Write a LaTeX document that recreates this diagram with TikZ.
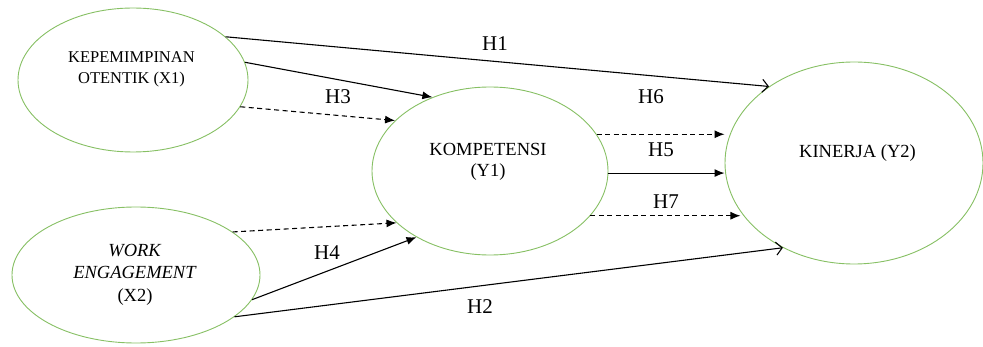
\documentclass[tikz,border=0pt]{standalone}
\usepackage{fontspec}
\setmainfont{Liberation Serif}
\usetikzlibrary{shapes.geometric,arrows.meta}
\definecolor{elgreen}{RGB}{135,192,100}
\tikzset{
  construct/.style={draw=elgreen, line width=0.9pt, ellipse, inner sep=0pt, fill=white},
  lbl/.style={font=\fontsize{18.5}{22}\selectfont, align=center, inner sep=0pt},
  hyp/.style={font=\fontsize{21}{24}\selectfont, inner sep=0pt},
  solidarr/.style={line width=1.1pt, -{Latex[length=10pt,width=8pt]}},
  dasharr/.style={line width=1.1pt, dash pattern=on 5pt off 3.5pt, -{Latex[length=10pt,width=8pt]}},
  openarr/.style={line width=1.1pt, -{Straight Barb[length=6pt,width=13pt]}},
}
\begin{document}
\begin{tikzpicture}[x=1pt,y=-1pt]
\useasboundingbox (0,0) rectangle (983,347);
% ellipses
\node[construct, minimum width=230pt, minimum height=144pt] (x1) at (133,80) {};
\node[construct, minimum width=248pt, minimum height=136pt] (x2) at (136,275) {};
\node[construct, minimum width=236pt, minimum height=168pt] (y1) at (490,171) {};
\node[construct, minimum width=258pt, minimum height=202pt] (y2) at (854,163) {};
% texts
\node[lbl, font=\fontsize{16.5}{21}\selectfont] (x1t) at (131.5,69.5) {KEPEMIMPINAN\\OTENTIK (X1)};
\node[lbl] (x2t) at (135,274.5) {\textit{WORK}\\[0.5pt]\textit{ENGAGEMENT}\\[0.5pt](X2)};
\node[lbl, font=\fontsize{18.5}{21}\selectfont] (y1t) at (488,161.5) {KOMPETENSI\\(Y1)};
\node[lbl] (y2t) at (857.5,153) {KINERJA (Y2)};
% connectors
\draw[openarr] (x1.25.3) -- (y2.138.9);
\draw[solidarr] (x1.9.5) -- (y1.128.7);
\draw[dasharr] (x1.-14.2) -- (y1.152.7);
\draw[dasharr] (x2.24.1) -- (y1.209.4);
\draw[solidarr] (x2.-12.8) -- (y1.222.9);
\draw[openarr] (x2.-23.1) -- (y2.230.3);
\draw[dasharr] (y1.19.9) -- (y1.19.9 -| y2.west);
\draw[solidarr] (y1.-1) -- (y1.-1 -| y2.west);
\draw[dasharr, shorten >=5pt] (y1.-24.1) -- (y1.-24.1 -| y2.207);
% hypothesis labels
\node[hyp] (h1) at (495,44) {H1};
\node[hyp] (h2) at (480,307) {H2};
\node[hyp] (h3) at (338,97) {H3};
\node[hyp] (h4) at (327,253) {H4};
\node[hyp] (h5) at (661,150) {H5};
\node[hyp] (h6) at (651,97) {H6};
\node[hyp] (h7) at (666,202) {H7};
\end{tikzpicture}
\end{document}
